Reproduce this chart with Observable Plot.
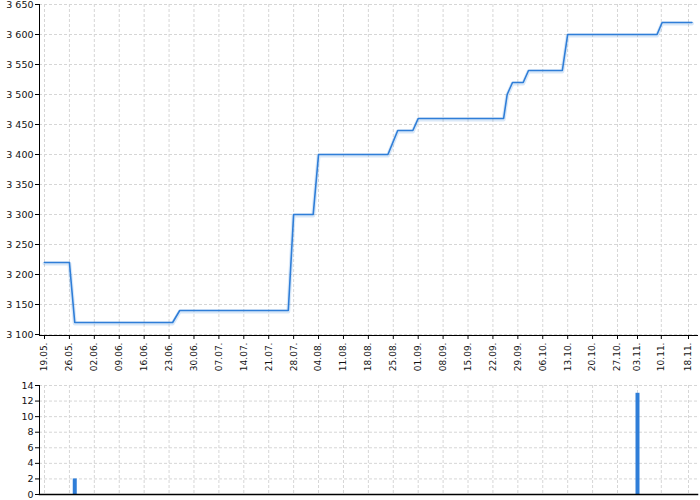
<!DOCTYPE html>
<html>
<head>
<meta charset="utf-8">
<script src="https://cdn.jsdelivr.net/npm/d3@7"></script>
<script src="https://cdn.jsdelivr.net/npm/@observablehq/plot@0.6"></script>
<style>
  html, body { margin: 0; padding: 0; background: #fff; }
  #chart svg { display: block; overflow: visible; }
</style>
</head>
<body>
<div id="chart"></div>
<script>
// ---- data ----
const YEAR = 2024;
const tickLabels = ["19.05.","26.05.","02.06.","09.06.","16.06.","23.06.","30.06.","07.07.","14.07.","21.07.","28.07.","04.08.","11.08.","18.08.","25.08.","01.09.","08.09.","15.09.","22.09.","29.09.","06.10.","13.10.","20.10.","27.10.","03.11.","10.11.","18.11."];
const priceTimes = ["2024-05-19","2024-05-26","2024-05-27T12:00","2024-06-24","2024-06-26","2024-07-26T12:00","2024-07-28","2024-08-02T12:00","2024-08-04","2024-08-23T12:00","2024-08-26T06:00","2024-08-30T12:00","2024-09-01","2024-09-25","2024-09-26","2024-09-27T12:00","2024-09-30T12:00","2024-10-02","2024-10-11T12:00","2024-10-13","2024-11-08T18:00","2024-11-10T06:00","2024-11-19"];
const priceValues = [3220,3220,3120,3120,3140,3140,3300,3300,3400,3400,3440,3440,3460,3460,3500,3520,3520,3540,3540,3600,3600,3620,3620];
const volumeTimes = ["2024-05-27T12:00","2024-11-03"];
const volumeValues = [2,13];
const priceTicks = [3100,3150,3200,3250,3300,3350,3400,3450,3500,3550,3600,3650];
const volumeTicks = [0,2,4,6,8,10,12,14];

// ---- derived ----
const parseLabel = s => { const [d, m] = s.split("."); return new Date(Date.UTC(YEAR, +m - 1, +d)); };
const tickDates = tickLabels.map(parseLabel);
const labelFor = new Map(tickDates.map((d, i) => [+d, tickLabels[i]]));
const toDate = s => new Date(s.length === 10 ? s + "T00:00:00Z" : s + ":00Z");
const price = priceTimes.map((t, i) => ({date: toDate(t), value: priceValues[i]}));
const volume = volumeTimes.map((t, i) => ({date: toDate(t), value: volumeValues[i]}));

const blue = "#2f7ed8";
const gridStyle = {stroke: "#d6d6d6", strokeOpacity: 1, strokeDasharray: "3,2"};
const font = "'DejaVu Sans', Verdana, sans-serif";
const spaceFmt = d => d3.format(",")(d).replace(/,/g, " ");

// x scale: piecewise to follow the reference tick spacing
const xScale = {
  type: "utc",
  domain: [tickDates[0], parseLabel("27.10."), parseLabel("03.11."), parseLabel("18.11.")],
  range: [44, 617, 637, 688]
};

const priceChart = Plot.plot({
  width: 700, height: 380,
  marginTop: 4, marginBottom: 45, marginLeft: 39, marginRight: 3,
  style: {fontFamily: font, background: "#fff", color: "#000"},
  x: xScale,
  y: {domain: [3100, 3650], range: [334, 4]},
  marks: [
    Plot.gridX(tickDates, gridStyle),
    Plot.gridY(priceTicks, gridStyle),
    Plot.line(price, {x: "date", y: "value", stroke: blue, strokeOpacity: 0.18, strokeWidth: 4, dy: 1}),
    Plot.line(price, {x: "date", y: "value", stroke: blue, strokeWidth: 1.6}),
    Plot.frame({anchor: "left", stroke: "#000"}),
    Plot.frame({anchor: "bottom", stroke: "#000"}),
    Plot.axisY({ticks: priceTicks, label: null, tickSize: 4, tickPadding: 2, tickFormat: spaceFmt, fontSize: 9.5, stroke: "#000", fill: "#111"}),
    Plot.axisX({ticks: tickDates, label: null, tickSize: 4, tickPadding: 3, tickRotate: -90, tickFormat: d => labelFor.get(+d), fontSize: 9, stroke: "#000", fill: "#111"})
  ]
});

const volumeChart = Plot.plot({
  width: 700, height: 120,
  marginTop: 5, marginBottom: 6, marginLeft: 39, marginRight: 3,
  style: {fontFamily: font, background: "#fff", color: "#000"},
  x: {...xScale, axis: null},
  y: {domain: [0, 14], range: [114, 5]},
  marks: [
    Plot.gridX(tickDates, gridStyle),
    Plot.gridY(volumeTicks, gridStyle),
    Plot.ruleX(volume, {x: "date", y1: 0, y2: "value", stroke: blue, strokeWidth: 4}),
    Plot.frame({anchor: "left", stroke: "#000"}),
    Plot.frame({anchor: "bottom", stroke: "#000", strokeWidth: 1.5}),
    Plot.axisY({ticks: volumeTicks, label: null, tickSize: 4, tickPadding: 2, fontSize: 9.5, stroke: "#000", fill: "#111"})
  ]
});

const root = document.getElementById("chart");
root.appendChild(priceChart);
root.appendChild(volumeChart);
</script>
</body>
</html>
